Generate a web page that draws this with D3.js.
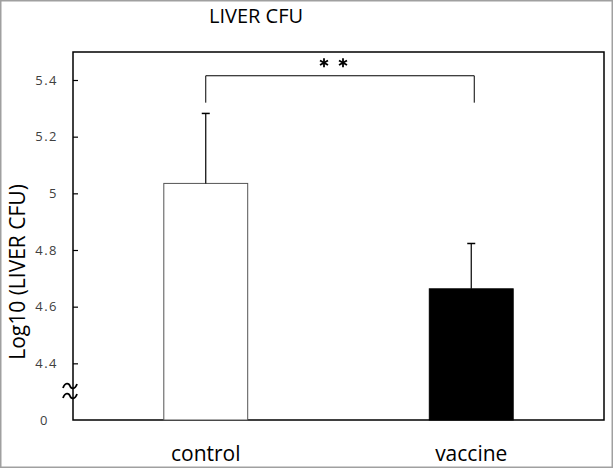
<!DOCTYPE html>
<html>
<head>
<meta charset="utf-8">
<script src="https://cdn.jsdelivr.net/npm/d3@7"></script>
<style>
  body { margin: 0; background: #fff; }
  text { font-family: "Open Sans", sans-serif; }
</style>
</head>
<body>
<div id="chart"></div>
<script>
// data
const groups = ["control", "vaccine"];
const means = [5.035, 4.663];
const upperErr = [0.247, 0.16];
const tickValues = [4.2, 4.4, 4.6, 4.8, 5, 5.2, 5.4];
const tickLabels = ["0", "4.4", "4.6", "4.8", "5", "5.2", "5.4"];
const sigPair = ["control", "vaccine"];
const sigLevel = 5.415, sigLegEnd = 5.32;

const width = 614, height = 469;
const margin = {top: 52, right: 10, bottom: 49, left: 73};

const svg = d3.select("#chart")
  .append("svg")
    .attr("width", width)
    .attr("height", height);

// outer grey frame
svg.append("rect")
    .attr("x", 0.75).attr("y", 0.75)
    .attr("width", width - 2.5).attr("height", height - 2.5)
    .attr("fill", "none")
    .attr("stroke", "#a0a0a0")
    .attr("stroke-width", 1.5);

const x = d3.scaleBand()
    .domain(groups)
    .range([margin.left, width - margin.right])
    .paddingInner(0.684)
    .paddingOuter(0.342);

const y = d3.scaleLinear()
    .domain([4.2, 5.4])
    .range([height - margin.bottom, 80]);

// plot frame
svg.append("rect")
    .attr("x", margin.left).attr("y", margin.top)
    .attr("width", width - margin.left - margin.right)
    .attr("height", height - margin.top - margin.bottom)
    .attr("fill", "none")
    .attr("stroke", "#000")
    .attr("stroke-width", 1.5);

// bars
svg.selectAll(".bar")
  .data(groups)
  .join("rect")
    .attr("class", "bar")
    .attr("x", d => x(d))
    .attr("y", (d, i) => y(means[i]))
    .attr("width", x.bandwidth())
    .attr("height", (d, i) => y(4.2) - y(means[i]))
    .attr("fill", (d, i) => i === 0 ? "#fff" : "#000")
    .attr("stroke", (d, i) => i === 0 ? "#555" : "#000")
    .attr("stroke-width", 1);

// error bars (upper only)
const eb = svg.selectAll(".err")
  .data(groups)
  .join("g")
    .attr("class", "err");
eb.append("line")
    .attr("x1", d => x(d) + x.bandwidth() / 2)
    .attr("x2", d => x(d) + x.bandwidth() / 2)
    .attr("y1", (d, i) => y(means[i]))
    .attr("y2", (d, i) => y(means[i] + upperErr[i]))
    .attr("stroke", "#000").attr("stroke-width", 1.2);
eb.append("line")
    .attr("x1", d => x(d) + x.bandwidth() / 2 - 4)
    .attr("x2", d => x(d) + x.bandwidth() / 2 + 4)
    .attr("y1", (d, i) => y(means[i] + upperErr[i]))
    .attr("y2", (d, i) => y(means[i] + upperErr[i]))
    .attr("stroke", "#000").attr("stroke-width", 1.5);

// y axis with inward ticks
const yAxis = svg.append("g")
    .attr("transform", `translate(${margin.left},0)`)
    .call(d3.axisLeft(y)
      .tickValues(tickValues)
      .tickFormat((d, i) => tickLabels[i])
      .tickSizeInner(-5)
      .tickSizeOuter(0)
      .tickPadding(15));
yAxis.select(".domain").remove();
yAxis.selectAll(".tick line").attr("stroke", "#000").attr("stroke-width", 1.2);
yAxis.selectAll(".tick text")
    .attr("font-size", 13)
    .attr("letter-spacing", 1.5)
    .attr("fill", "#404040")
    .attr("font-family", "Open Sans, sans-serif");
yAxis.selectAll(".tick").filter(d => d === 4.2)
    .select("text").attr("dx", -9);
yAxis.selectAll(".tick").filter(d => d === 4.2).select("line").remove();

// axis break mark (two tildes)
const brk = svg.append("g").attr("fill", "none").attr("stroke", "#000").attr("stroke-width", 1.8);
[386, 396].forEach(cy => {
  const x0 = margin.left - 10;
  brk.append("path")
    .attr("d", `M${x0},${cy + 2} C${x0 + 2},${cy - 4} ${x0 + 6},${cy - 3} ${x0 + 7},${cy} S${x0 + 12},${cy + 4} ${x0 + 14},${cy - 2}`);
});

// x labels
svg.selectAll(".xlab")
  .data(groups)
  .join("text")
    .attr("class", "xlab")
    .attr("x", d => x(d) + x.bandwidth() / 2)
    .attr("y", 461)
    .attr("text-anchor", "middle")
    .attr("font-size", 21)
    .attr("fill", "#000")
    .text(d => d);

// title
svg.append("text")
    .attr("x", 256).attr("y", 23)
    .attr("text-anchor", "middle")
    .attr("font-size", 20)
    .text("LIVER CFU");

// y label
svg.append("text")
    .attr("transform", "translate(25,272) rotate(-90)")
    .attr("text-anchor", "middle")
    .attr("font-size", 21)
    .text("Log10 (LIVER CFU)");

// significance bracket
const bx1 = x(sigPair[0]) + x.bandwidth() / 2, bx2 = x(sigPair[1]) + x.bandwidth() / 2 + 3;
svg.append("path")
    .attr("d", `M${bx1},${y(sigLegEnd)} V${y(sigLevel)} H${bx2} V${y(sigLegEnd)}`)
    .attr("fill", "none").attr("stroke", "#000").attr("stroke-width", 1);

// asterisks drawn as six-spoke stars
const starX = [(bx1 + bx2) / 2 - 16, (bx1 + bx2) / 2 + 3];
starX.forEach(sx => {
  const g = svg.append("g").attr("transform", `translate(${sx},${y(sigLevel) - 13})`);
  [90, 30, -30].forEach(a => {
    const r = 4.6, t = a * Math.PI / 180;
    g.append("line")
      .attr("x1", -r * Math.cos(t)).attr("y1", -r * Math.sin(t))
      .attr("x2", r * Math.cos(t)).attr("y2", r * Math.sin(t))
      .attr("stroke", "#000").attr("stroke-width", 1.8);
  });
});
</script>
</body>
</html>
